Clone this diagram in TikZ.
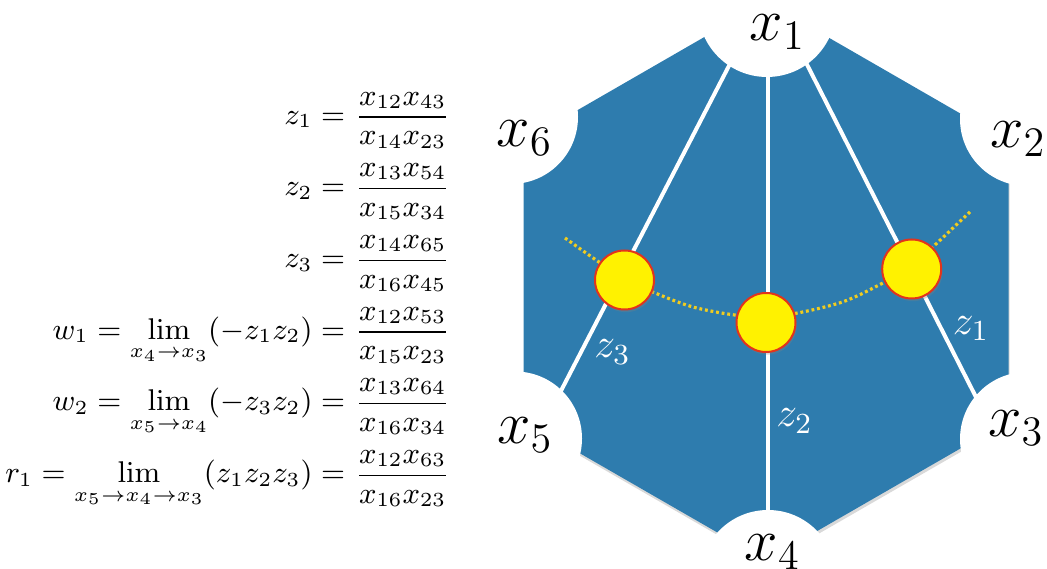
\RequirePackage{fix-cm}
\documentclass[tikz,border=0pt]{standalone}
\usepackage{amsmath}
\usetikzlibrary{shadows}
\definecolor{hexblue}{RGB}{46,124,174}
\definecolor{dotyellow}{RGB}{240,204,32}
\definecolor{ringred}{RGB}{226,52,28}
\tikzset{
  cutout/.style={circle, fill=white, draw=none, inner sep=0pt},
  chord/.style={white, line width=1.2pt},
  vlabel/.style={inner sep=0pt, font=\fontsize{18}{20}\selectfont},
  zlabel/.style={inner sep=0pt, text=white, font=\fontsize{12.5}{14}\selectfont},
  puncture/.style={circle, fill=yellow, draw=ringred, line width=0.6pt,
    minimum size=17.7pt, inner sep=0pt,
    drop shadow={opacity=0.3, shadow xshift=0.4pt, shadow yshift=-0.8pt}},
  lhs/.style={anchor=base east, inner sep=0pt, font=\fontsize{9}{11}\selectfont},
  rhs/.style={anchor=base west, inner sep=0pt, font=\fontsize{9}{11}\selectfont},
  dotpath/.style={dotyellow, line width=0.95pt, dash pattern=on 0.85pt off 0.85pt}
}
\begin{document}
\begin{tikzpicture}[x=0.3pt, y=-0.3pt]
\useasboundingbox (0,0) rectangle (1047,569);

% hexagon
\fill[hexblue, drop shadow={opacity=0.3, shadow xshift=0.3pt, shadow yshift=-0.9pt}]
  (766,1.5) -- (1008.5,141.3) -- (1008.5,420.8) -- (766,560.5)
  -- (523.5,420.8) -- (523.5,141.3) -- cycle;

% white chords (ends hidden under the cut-outs)
\coordinate (a1) at (763,0);
\coordinate (a5) at (514.9,480);
\coordinate (b1) at (774.2,0);
\coordinate (b3) at (1018.1,480);
\coordinate (m1) at (768,0);
\coordinate (m4) at (768,569);
\draw[chord] (a1) -- (a5);
\draw[chord] (b1) -- (b3);
\draw[chord] (m1) -- (m4);

% circular cut-outs at the vertices
\node[cutout, minimum size=41.4pt] (c1) at (767,8) {};
\node[cutout, minimum size=40.2pt] (c2) at (1027,119) {};
\node[cutout, minimum size=40.2pt] (c3) at (1027,439) {};
\node[cutout, minimum size=40.8pt] (c4) at (768,578) {};
\node[cutout, minimum size=40.2pt] (c5) at (515,438.5) {};
\node[cutout, minimum size=40.2pt] (c6) at (511,117) {};

% dotted curve
\draw[dotpath] plot[smooth, tension=0.55] coordinates {
  (565,238) (596,260) (624.5,279) (655,293) (701,309) (766,317)
  (836,304) (881,284) (911.7,266) (936,244) (972,210)};

% punctures
\node[puncture] (p3) at (624.5,280) {};
\node[puncture] (p2) at (766,322.5) {};
\node[puncture] (p1) at (911.7,269) {};

% vertex labels
\node[vlabel] (x1) at (777.5,32) {$x_1$};
\node[vlabel] (x2) at (1018,139) {$x_2$};
\node[vlabel] (x3) at (1016,428) {$x_3$};
\node[vlabel] (x4) at (772.5,552) {$x_4$};
\node[vlabel] (x5) at (525,435) {$x_5$};
\node[vlabel] (x6) at (524.5,138.5) {$x_6$};

% edge labels
\node[zlabel] (z1) at (971,328.5) {$z_1$};
\node[zlabel] (z2) at (794.5,421) {$z_2$};
\node[zlabel] (z3) at (612.5,352) {$z_3$};

% equations
\node[lhs] (e1l) at (354.4,124.5) {$\displaystyle z_1={}$};
\node[rhs] (e1r) at (354.4,124.5) {$\displaystyle\frac{x_{12}x_{43}}{x_{14}x_{23}}$};
\node[lhs] (e2l) at (354.4,196) {$\displaystyle z_2={}$};
\node[rhs] (e2r) at (354.4,196) {$\displaystyle\frac{x_{13}x_{54}}{x_{15}x_{34}}$};
\node[lhs] (e3l) at (354.4,268) {$\displaystyle z_3={}$};
\node[rhs] (e3r) at (354.4,268) {$\displaystyle\frac{x_{14}x_{65}}{x_{16}x_{45}}$};
\node[lhs] (e4l) at (354.4,339.5) {$\displaystyle w_1=\lim_{x_4\to x_3}(-z_1z_2)={}$};
\node[rhs] (e4r) at (354.4,339.5) {$\displaystyle\frac{x_{12}x_{53}}{x_{15}x_{23}}$};
\node[lhs] (e5l) at (354.4,411) {$\displaystyle w_2=\lim_{x_5\to x_4}(-z_3z_2)={}$};
\node[rhs] (e5r) at (354.4,411) {$\displaystyle\frac{x_{13}x_{64}}{x_{16}x_{34}}$};
\node[lhs] (e6l) at (354.4,483) {$\displaystyle r_1=\lim_{x_5\to x_4\to x_3}(z_1z_2z_3)={}$};
\node[rhs] (e6r) at (354.4,483) {$\displaystyle\frac{x_{12}x_{63}}{x_{16}x_{23}}$};
\end{tikzpicture}
\end{document}
